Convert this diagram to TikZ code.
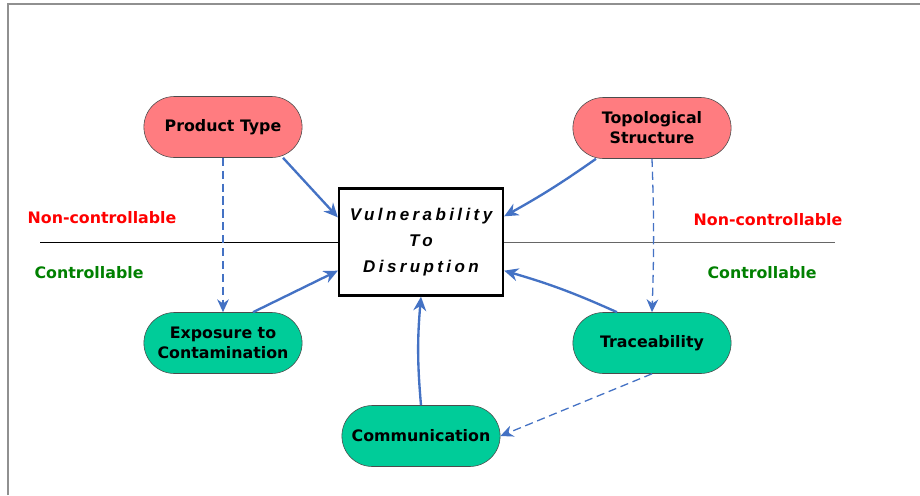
\documentclass[tikz,border=0pt]{standalone}
\usepackage{fontspec}
\setmainfont{DejaVu Sans}
\newfontfamily\vulnfont[LetterSpace=20]{Liberation Sans}
\usetikzlibrary{arrows.meta}
\usetikzlibrary{shapes.misc}

\definecolor{pinkfill}{HTML}{FF7C80}
\definecolor{tealfill}{HTML}{00CC99}
\definecolor{linkblue}{HTML}{4472C4}
\definecolor{ctrlgreen}{HTML}{008000}
\definecolor{framegray}{HTML}{909090}

\tikzset{
  factor/.style={rounded rectangle, draw=black!70, line width=0.5pt,
    minimum width=4.98cm, minimum height=1.83cm, align=center,
    font=\bfseries\fontsize{13.5}{17}\selectfont},
  fixed/.style={factor, fill=pinkfill},
  managed/.style={factor, fill=tealfill},
  link/.style={linkblue, line width=2pt, -{Stealth[length=12pt,width=11pt]}},
  weaklink/.style={linkblue, line width=1.1pt, dash pattern=on 7pt off 4pt,
    -{Stealth[length=11pt,width=10pt]}},
  zone/.style={font=\bfseries\fontsize{13.5}{16}\selectfont}
}

\begin{document}
\begin{tikzpicture}[x=0.03cm, y=-0.03cm]
        \useasboundingbox (0,0) rectangle (920,495);
        \draw [framegray, line width=1pt] (8,495) -- (8,4) -- (920,4);

        % dividing line
        \coordinate (leftend) at (40,242);
        \coordinate (rightend) at (835,242);

        \node [draw, line width=2pt, fill=white, minimum width=4.92cm, minimum height=3.21cm,
               align=center, font=\vulnfont\bfseries\itshape\fontsize{14.5}{22.5}\selectfont]
               (vuln) at (421,242) {Vulnerability\\To\\Disruption};

        \draw [black, line width=0.8pt] (leftend) -- (vuln.west);
        \draw [black!60, line width=0.5pt] (vuln.east) -- (rightend);

        \node [fixed] (prod) at (223,127) {Product Type};
        \node [fixed] (topo) at (652,128) {Topological\\Structure};
        \node [managed] (expo) at (223,343) {Exposure to\\Contamination};
        \node [managed] (trace) at (652,343) {Traceability};
        \node [managed] (comm) at (421,436) {Communication};

        \node [zone, red] (ncleft) at (102,218) {Non-controllable};
        \node [zone, red] (ncright) at (768,220) {Non-controllable};
        \node [zone, ctrlgreen] (cleft) at (89,273) {Controllable};
        \node [zone, ctrlgreen] (cright) at (762,273) {Controllable};

        \draw [link] ([xshift=1.8cm]prod.south) -- ([yshift=-0.9cm]vuln.north west);
        \draw [link] ([xshift=-1.68cm]topo.south) to[bend left=3] ([yshift=-0.87cm]vuln.north east);
        \draw [link] ([xshift=0.9cm]expo.north) -- ([yshift=0.78cm]vuln.south west);
        \draw [link] ([xshift=-1.05cm]trace.north) to[bend right=4] ([yshift=0.78cm]vuln.south east);
        \draw [link] (comm.north) to[bend left=5] (vuln.south);

        \draw [weaklink] (prod.south) -- (expo.north);
        \draw [weaklink] (topo.south) to[bend left=2] (trace.north);
        \draw [weaklink] (trace.south) -- (comm.east);
    \end{tikzpicture}
\end{document}
